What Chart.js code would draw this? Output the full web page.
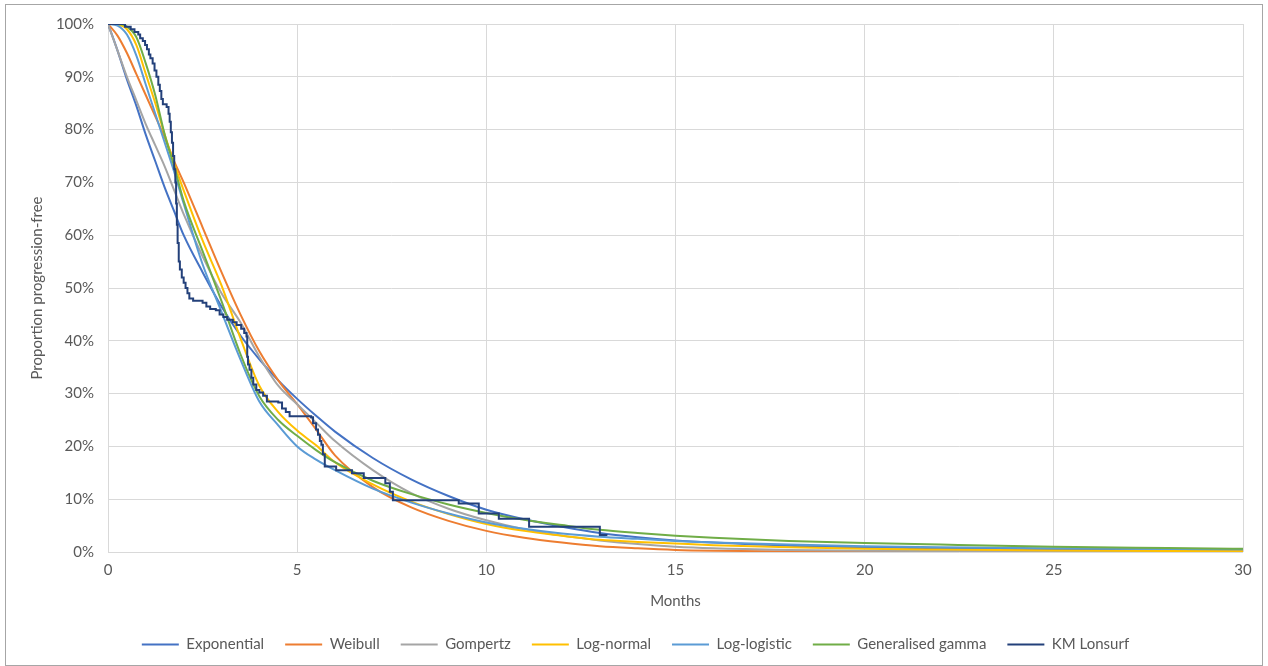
<!DOCTYPE html>
<html>
<head>
<meta charset="utf-8">
<script src="https://cdn.jsdelivr.net/npm/chart.js@4/dist/chart.umd.min.js"></script>
<style>
  html, body { margin: 0; padding: 0; background: #fff; }
  #frame { position: absolute; left: 5px; top: 4px; width: 1256px; height: 660px;
           border: 1px solid #a6a6a6; background: #fff; }
  canvas { display: block; }
</style>
</head>
<body>
<div id="frame"><canvas id="pfs" width="1256" height="660"></canvas></div>
<script>
// ── Data (months, % progression-free) ─────────────────────────────────────
const months = [0, 0.25, 0.5, 0.75, 1, 1.25, 1.5, 1.75, 2, 2.5, 3, 3.5, 4, 4.5, 5, 5.5, 6,
                7, 8, 9, 10, 11, 12, 13, 14, 15, 16, 18, 20, 22, 25, 28, 30];

const exponential = [100, 95, 89.5, 84.5, 79, 74, 69, 64.5, 60, 53, 46.5, 41, 36.5, 32.5, 29, 25.8, 22.8,
                     17.8, 13.8, 10.6, 8.0, 6.2, 4.8, 3.6, 2.8, 2.2, 1.8, 1.2, 0.9, 0.7, 0.45, 0.3, 0.25];
const weibull     = [100, 97.8, 94.5, 90.5, 86.5, 82.5, 78.5, 74, 70, 61.5, 53, 45, 38, 32.5, 28, 23.2, 18.3,
                     12.3, 8.5, 5.9, 4.0, 2.7, 1.8, 1.1, 0.7, 0.4, 0.25, 0.1, 0.05, 0.02, 0, 0, 0];
const gompertz    = [100, 95, 90, 85.5, 81, 77, 73, 68.5, 64, 56, 49, 43.5, 37, 31.5, 28, 24.5, 21,
                     15.5, 11.2, 8.2, 6, 4.3, 3.1, 2.2, 1.5, 1.0, 0.7, 0.4, 0.25, 0.2, 0.15, 0.1, 0.1];
const logNormal   = [100, 99.9, 99, 96, 90.5, 85, 79, 73.5, 68.5, 59, 50.5, 40.5, 31.5, 26.5, 23, 20.2, 17,
                     12.8, 9.6, 7.2, 5.3, 4.0, 3.1, 2.3, 1.9, 1.6, 1.3, 0.9, 0.6, 0.45, 0.3, 0.2, 0.15];
const logLogistic = [100, 99.7, 98, 94, 88.5, 83, 77.5, 72, 66, 54.5, 45.5, 36.5, 28.5, 24, 20, 17.5, 15.5,
                     12, 9.4, 7.3, 5.6, 4.4, 3.5, 2.9, 2.5, 2.1, 1.8, 1.4, 1.1, 0.9, 0.7, 0.55, 0.5];
const genGamma    = [100, 100, 99.5, 97.5, 92.5, 86.5, 79, 73, 66.5, 57, 47.5, 37.5, 29.5, 25, 22, 19.3, 17,
                     13.5, 11, 9, 7.4, 6.1, 5.1, 4.2, 3.6, 3.1, 2.7, 2.1, 1.7, 1.4, 1.0, 0.75, 0.6];

// Kaplan-Meier steps: event time and survival after it
const kmMonths = [0, 0.45, 0.6, 0.7, 0.8, 0.85, 0.92, 0.98, 1.03, 1.08, 1.12, 1.18, 1.23, 1.28, 1.33, 1.37,
                  1.41, 1.45, 1.55, 1.6, 1.63, 1.66, 1.69, 1.72, 1.75, 1.78, 1.8, 1.82, 1.84, 1.87, 1.9,
                  1.95, 2.0, 2.05, 2.1, 2.15, 2.25, 2.5, 2.6, 2.7, 2.85, 2.95, 3.05, 3.15, 3.3, 3.4, 3.52,
                  3.6, 3.66, 3.68, 3.7, 3.74, 3.79, 3.84, 3.92, 4.0, 4.1, 4.2, 4.5, 4.6, 4.7, 4.8, 5.37,
                  5.42, 5.5, 5.55, 5.6, 5.64, 5.68, 5.73, 6.03, 6.45, 6.76, 7.33, 7.45, 7.53, 9.27, 9.8,
                  10.33, 11.13, 13.0, 13.2];
const kmSurv   = [100, 99.5, 99, 98.5, 98, 97.3, 96.8, 96, 95.2, 94.2, 93.5, 92.5, 91.2, 90, 88.5, 87.3,
                  85.8, 84.8, 84.3, 83, 81.5, 79.5, 77.5, 75, 72.5, 70, 66, 62, 58.5, 55, 53.5,
                  52, 51, 50, 49, 48, 47.6, 47.2, 46.5, 46, 45.8, 45, 44.5, 44, 43.5, 43, 42.3,
                  41.5, 40.8, 37, 35.5, 34.5, 33, 31.7, 30.7, 30.2, 29.6, 28.5, 28.3, 27.2, 26.5, 25.7, 25.5,
                  24.4, 23.2, 22.2, 21, 20.3, 18.5, 16.2, 15.5, 14.9, 14, 13, 11.4, 9.8, 9.2, 7.3,
                  6.3, 4.8, 3.2, 3.2];

const seriesNames  = ['Exponential', 'Weibull', 'Gompertz', 'Log-normal', 'Log-logistic', 'Generalised gamma'];
const seriesValues = [exponential, weibull, gompertz, logNormal, logLogistic, genGamma];
const seriesColors = ['#4472C4', '#ED7D31', '#A5A5A5', '#FFC000', '#5B9BD5', '#70AD47'];
const kmLabel = 'KM Lonsurf';
const kmColor = '#23407A';

const xTicks = [0, 5, 10, 15, 20, 25, 30];
const yTicks = [0, 10, 20, 30, 40, 50, 60, 70, 80, 90, 100];

const FONT = 'Lato, "Open Sans", sans-serif';
const TEXT = '#595959';
const GRID = '#d9d9d9';

// ── Datasets ──────────────────────────────────────────────────────────────
const datasets = seriesNames.map((name, i) => ({
  label: name,
  data: months.map((m, j) => ({ x: m, y: seriesValues[i][j] })),
  borderColor: seriesColors[i],
  backgroundColor: seriesColors[i],
  borderWidth: 2,
  pointRadius: 0,
  cubicInterpolationMode: 'monotone',
  fill: false,
  order: 10 - i
}));

datasets.push({
  label: kmLabel,
  data: kmMonths.map((m, j) => ({ x: m, y: kmSurv[j] })),
  borderColor: kmColor,
  backgroundColor: kmColor,
  borderWidth: 2,
  pointRadius: 0,
  stepped: true,
  fill: false,
  order: 0
});

new Chart(document.getElementById('pfs'), {
  type: 'line',
  data: { datasets },
  options: {
    responsive: false,
    animation: false,
    layout: { padding: { top: 19, right: 19, bottom: 3, left: 22 } },
    plugins: {
      legend: {
        position: 'bottom',
        labels: {
          font: { family: FONT, size: 15 },
          color: TEXT,
          boxWidth: 37,
          boxHeight: 2,
          padding: 21,
          sort: (a, b) => a.datasetIndex - b.datasetIndex,
          generateLabels: chart => Chart.defaults.plugins.legend.labels.generateLabels(chart)
            .map(l => ({ ...l, lineWidth: 0, fillStyle: l.strokeStyle }))
        }
      },
      tooltip: { enabled: false }
    },
    scales: {
      x: {
        type: 'linear', min: 0, max: 30,
        afterBuildTicks: s => { s.ticks = xTicks.map(v => ({ value: v })); },
        afterFit: s => { s.height = 64; },
        grid: { color: GRID, lineWidth: 1, drawTicks: false },
        border: { display: false },
        ticks: { font: { family: FONT, size: 15 }, color: TEXT, padding: 9, maxRotation: 0 },
        title: { display: true, text: 'Months', font: { family: FONT, size: 15 }, color: TEXT,
                 padding: { top: 4, bottom: 6 } }
      },
      y: {
        type: 'linear', min: 0, max: 100,
        afterBuildTicks: s => { s.ticks = yTicks.map(v => ({ value: v })); },
        afterFit: s => { s.width = 80; s.paddingTop = 0; s.paddingBottom = 0; },
        grid: { color: GRID, lineWidth: 1, drawTicks: false },
        border: { display: false },
        ticks: { font: { family: FONT, size: 15 }, color: TEXT, padding: 14,
                 callback: v => v + '%' },
        title: { display: true, text: 'Proportion progression-free', font: { family: FONT, size: 15 },
                 color: TEXT, padding: { top: 0, bottom: 6 } }
      }
    }
  }
});
</script>
</body>
</html>
